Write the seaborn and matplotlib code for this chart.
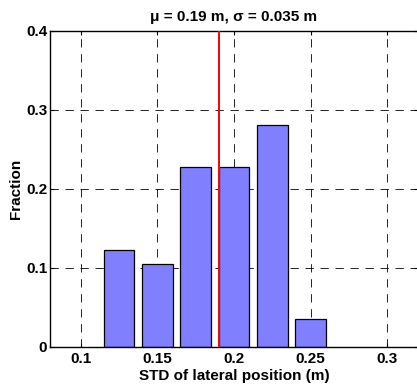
import matplotlib
matplotlib.use("Agg")
import matplotlib.pyplot as plt
import seaborn as sns
import pandas as pd

# Data
bin_centers = [0.125, 0.15, 0.175, 0.2, 0.225, 0.25]
fractions = [7/57, 6/57, 13/57, 13/57, 16/57, 2/57]
mean_value = 0.19
x_ticks = [0.1, 0.15, 0.2, 0.25, 0.3]
x_tick_labels = ["0.1", "0.15", "0.2", "0.25", "0.3"]
y_ticks = [0, 0.1, 0.2, 0.3, 0.4]
y_tick_labels = ["0", "0.1", "0.2", "0.3", "0.4"]
title_text = "\u03bc = 0.19 m, \u03c3 = 0.035 m"
x_label = "STD of lateral position (m)"
y_label = "Fraction"

sns.set_style("white")
plt.rcParams['font.family'] = ['Liberation Sans', 'DejaVu Sans']
plt.rcParams['font.weight'] = 'bold'
plt.rcParams['text.color'] = 'black'
plt.rcParams['axes.labelcolor'] = 'black'
plt.rcParams['xtick.color'] = 'black'
plt.rcParams['ytick.color'] = 'black'

fs = 11

fig = plt.figure(figsize=(4.17, 3.89), dpi=100)
ax = fig.add_axes([50/417, 1 - 346.7/389, 368/417, (346.7 - 30.7)/389])

df = pd.DataFrame({"center": bin_centers, "fraction": fractions})
sns.barplot(data=df, x="center", y="fraction", native_scale=True, ax=ax,
            color="#8080ff", saturation=1, edgecolor="black", linewidth=0.9,
            width=0.8, zorder=2)

ax.axvline(mean_value, color="red", linewidth=1.4, zorder=3)

ax.set_xlim(0.08, 0.32)
ax.set_ylim(0, 0.4)
ax.set_xticks(x_ticks)
ax.set_xticklabels(x_tick_labels)
ax.set_yticks(y_ticks)
ax.set_yticklabels(y_tick_labels)

ax.grid(True, color="black", linestyle=(0, (10, 8)), linewidth=0.6, zorder=0)
ax.set_axisbelow(True)

ax.tick_params(direction="in", length=3, width=0.8, labelsize=fs,
               top=True, right=True, bottom=True, left=True)
ax.tick_params(axis="y", pad=2)
ax.tick_params(axis="x", pad=4)
for lab in ax.get_xticklabels() + ax.get_yticklabels():
    lab.set_fontweight("bold")
for sp in ax.spines.values():
    sp.set_visible(True)
    sp.set_color("black")
    sp.set_linewidth(1.0)

ax.set_title(title_text, fontsize=fs, fontweight="bold", pad=7)
ax.set_xlabel(x_label, fontsize=fs, fontweight="bold", labelpad=2)
ax.set_ylabel(y_label, fontsize=fs, fontweight="bold", labelpad=2)

fig.savefig("out.png", dpi=100)
